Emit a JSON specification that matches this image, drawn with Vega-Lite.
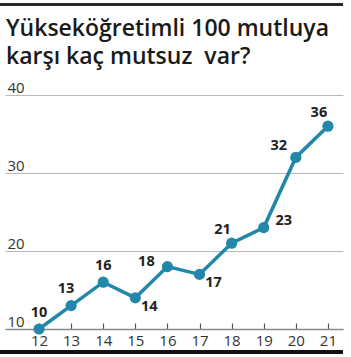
{
  "$schema": "https://vega.github.io/schema/vega-lite/v6.json",
  "autosize": "none",
  "width": 338,
  "height": 234,
  "padding": {"left": 5, "top": 95, "right": 8, "bottom": 28},
  "background": "white",
  "title": {
    "text": ["Yükseköğretimli 100 mutluya", "karşı kaç mutsuz \u00a0var?"],
    "anchor": "start",
    "frame": "group",
    "font": "Open Sans",
    "fontSize": 23,
    "fontWeight": 600,
    "color": "#1a1a1a",
    "lineHeight": 28,
    "baseline": "alphabetic",
    "offset": 0,
    "dx": 1,
    "dy": 83
  },
  "config": {
    "view": {"stroke": null},
    "font": "Open Sans"
  },
  "data": {
    "values": [
      {"yil": 12, "deger": 10},
      {"yil": 13, "deger": 13},
      {"yil": 14, "deger": 16},
      {"yil": 15, "deger": 14},
      {"yil": 16, "deger": 18},
      {"yil": 17, "deger": 17},
      {"yil": 18, "deger": 21},
      {"yil": 19, "deger": 23},
      {"yil": 20, "deger": 32},
      {"yil": 21, "deger": 36}
    ]
  },
  "encoding": {
    "x": {
      "field": "yil",
      "type": "quantitative",
      "scale": {"domain": [10.94, 21.47], "nice": false, "zero": false},
      "axis": {
        "title": null,
        "values": [13, 14, 15, 16, 17, 18, 19, 20, 21, 12],
        "grid": false,
        "domainColor": "#8a8a8a",
        "domainWidth": 1.5,
        "tickColor": "#555",
        "tickWidth": 1.2,
        "tickSize": -6,
        "labelPadding": 10,
        "labelFont": "Open Sans",
        "labelFontSize": 15,
        "labelColor": "#333",
        "labelFlush": false,
        "labelOverlap": false,
        "labelBound": false
      }
    },
    "y": {
      "field": "deger",
      "type": "quantitative",
      "scale": {"domain": [10, 40], "nice": false, "zero": false},
      "axis": {
        "title": null,
        "values": [10, 20, 30, 40],
        "domain": false,
        "ticks": false,
        "grid": true,
        "gridColor": "#b8b8b8",
        "gridWidth": 1.2,
        "labelAlign": "left",
        "labelBaseline": "alphabetic",
        "labelPadding": -2,
        "labelOffset": -3,
        "labelFont": "Open Sans",
        "labelFontSize": 15,
        "labelColor": "#333",
        "labelFlush": false,
        "labelOverlap": false,
        "labelBound": false
      }
    }
  },
  "layer": [
    {
      "mark": {"type": "rule", "color": "#222", "strokeWidth": 1.5, "clip": false},
      "encoding": {"y": {"datum": 51.6}, "x": {"datum": 10.785}, "x2": {"datum": 21.47}}
    },
    {
      "mark": {"type": "rule", "color": "#111", "strokeWidth": 3, "clip": false},
      "encoding": {"y": {"datum": 7.05}, "x": {"datum": 10.785}, "x2": {"datum": 21.47}}
    },
    {
      "mark": {"type": "line", "color": "#2387aa", "strokeWidth": 3.5}
    },
    {
      "mark": {"type": "circle", "color": "#2387aa", "opacity": 1, "size": 125}
    },
    {
      "transform": [{"filter": "datum.yil == 12 || datum.yil == 14"}],
      "mark": {"type": "text", "font": "Open Sans", "fontWeight": "bold", "fontSize": 14.5, "color": "#222", "dx": 0, "dy": -16},
      "encoding": {"text": {"field": "deger"}}
    },
    {
      "transform": [{"filter": "datum.yil == 13"}],
      "mark": {"type": "text", "font": "Open Sans", "fontWeight": "bold", "fontSize": 14.5, "color": "#222", "dx": -5, "dy": -17},
      "encoding": {"text": {"field": "deger"}}
    },
    {
      "transform": [{"filter": "datum.yil == 15 || datum.yil == 17"}],
      "mark": {"type": "text", "font": "Open Sans", "fontWeight": "bold", "fontSize": 14.5, "color": "#222", "dx": 14, "dy": 9},
      "encoding": {"text": {"field": "deger"}}
    },
    {
      "transform": [{"filter": "datum.yil == 16"}],
      "mark": {"type": "text", "font": "Open Sans", "fontWeight": "bold", "fontSize": 14.5, "color": "#222", "dx": -21, "dy": -5},
      "encoding": {"text": {"field": "deger"}}
    },
    {
      "transform": [{"filter": "datum.yil == 18 || datum.yil == 21"}],
      "mark": {"type": "text", "font": "Open Sans", "fontWeight": "bold", "fontSize": 14.5, "color": "#222", "dx": -9, "dy": -13},
      "encoding": {"text": {"field": "deger"}}
    },
    {
      "transform": [{"filter": "datum.yil == 19"}],
      "mark": {"type": "text", "font": "Open Sans", "fontWeight": "bold", "fontSize": 14.5, "color": "#222", "dx": 20, "dy": -7},
      "encoding": {"text": {"field": "deger"}}
    },
    {
      "transform": [{"filter": "datum.yil == 20"}],
      "mark": {"type": "text", "font": "Open Sans", "fontWeight": "bold", "fontSize": 14.5, "color": "#222", "dx": -17, "dy": -11},
      "encoding": {"text": {"field": "deger"}}
    }
  ]
}
